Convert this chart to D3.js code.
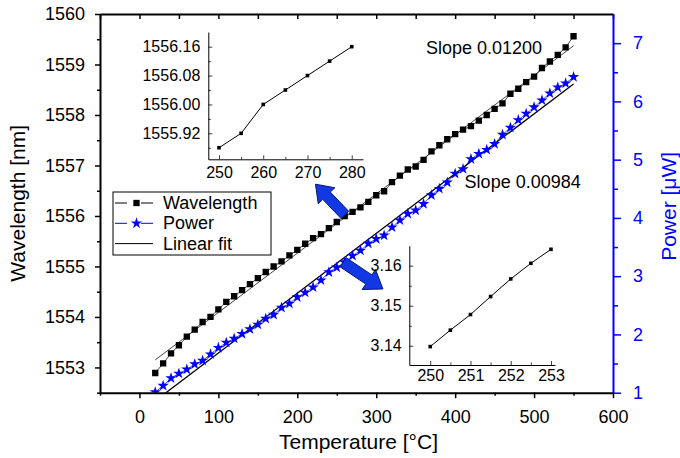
<!DOCTYPE html>
<html>
<head>
<meta charset="utf-8">
<script src="https://cdn.jsdelivr.net/npm/d3@7"></script>
<style>
  body { margin: 0; background: #fff; }
  text { font-family: "Liberation Sans", Arial, sans-serif; }
</style>
</head>
<body>
<svg id="chart" width="680" height="458"></svg>
<script>
// data
const TEMPS = [20, 30, 40, 50, 60, 70, 80, 90, 100, 110, 120, 130, 140, 150, 160, 170, 180, 190,
  200, 210, 220, 230, 240, 250, 260, 270, 280, 290, 300, 310, 320, 330, 340, 350, 360, 370,
  380, 390, 400, 410, 420, 430, 440, 450, 460, 470, 480, 490, 500, 510, 520, 530, 540, 550];
const WAVELENGTH = [1552.89, 1553.08, 1553.28, 1553.44, 1553.61, 1553.75, 1553.90, 1554.00, 1554.15,
  1554.30, 1554.41, 1554.53, 1554.65, 1554.77, 1554.89, 1555.00, 1555.10, 1555.22, 1555.33, 1555.45,
  1555.56, 1555.64, 1555.76, 1555.88, 1556.00, 1556.08, 1556.17, 1556.28, 1556.41, 1556.49, 1556.67,
  1556.80, 1556.92, 1556.98, 1557.11, 1557.28, 1557.40, 1557.52, 1557.62, 1557.71, 1557.78, 1557.89,
  1558.00, 1558.12, 1558.23, 1558.42, 1558.52, 1558.65, 1558.76, 1558.93, 1559.06, 1559.19, 1559.34,
  1559.56];
const POWER = [1.01, 1.12, 1.25, 1.33, 1.40, 1.49, 1.55, 1.66, 1.77, 1.86, 1.93, 2.01, 2.09, 2.17,
  2.27, 2.34, 2.46, 2.53, 2.64, 2.72, 2.81, 2.93, 3.07, 3.15, 3.24, 3.35, 3.44, 3.56, 3.64, 3.70,
  3.84, 3.96, 4.07, 4.13, 4.24, 4.39, 4.50, 4.61, 4.76, 4.84, 5.01, 5.10, 5.17, 5.27, 5.43, 5.55,
  5.68, 5.79, 5.90, 6.02, 6.14, 6.24, 6.31, 6.42];

const FIT_T = [20, 550];
const FIT_WL = [1553.15, 1559.37];
const FIT_PW = [0.86, 6.30];

const INSET1_T = [250, 255, 260, 265, 270, 275, 280];
const INSET1_WL = [1555.88, 1555.92, 1556.00, 1556.04, 1556.08, 1556.12, 1556.16];
const INSET2_T = [250, 250.5, 251, 251.5, 252, 252.5, 253];
const INSET2_PW = [3.1398, 3.1439, 3.1478, 3.1523, 3.1567, 3.1606, 3.1641];

const X_TICKS = [0, 100, 200, 300, 400, 500, 600];
const X_MINOR = [-50, 50, 150, 250, 350, 450, 550];
const WL_TICKS = [1553, 1554, 1555, 1556, 1557, 1558, 1559, 1560];
const WL_MINOR = [1552.5, 1553.5, 1554.5, 1555.5, 1556.5, 1557.5, 1558.5, 1559.5];
const PW_TICKS = [1, 2, 3, 4, 5, 6, 7];
const PW_MINOR = [1.5, 2.5, 3.5, 4.5, 5.5, 6.5];

const LEGEND = ["Wavelength", "Power", "Linear fit"];
const SLOPE_LABELS = ["Slope 0.01200", "Slope 0.00984"];

const WIDTH = 680;
const HEIGHT = 458;
const FONT = "Liberation Sans, Arial, sans-serif";
const BLUE = "#0000ff";
const ARROW_FILL = "#1238e6";
const ARROW_STROKE = "#08186e";

const plotLeft = 100;
const plotRight = 613;
const plotTop = 14;
const plotBottom = 392.7;

const svg = d3.select("#chart");
svg.append("rect").attr("width", WIDTH).attr("height", HEIGHT).attr("fill", "#fff");

const x = d3.scaleLinear().domain([-50, 600]).range([plotLeft, plotRight]);
const yL = d3.scaleLinear().domain([1552.5, 1560]).range([plotBottom, plotTop]);
const yR = d3.scaleLinear().domain([1, 7.5]).range([plotBottom, plotTop]);

svg.append("clipPath").attr("id", "clip")
  .append("rect")
  .attr("x", plotLeft).attr("y", plotTop)
  .attr("width", plotRight - plotLeft).attr("height", plotBottom - plotTop);

const styleAxis = (g, color, size, width) => {
  g.attr("font-family", FONT).attr("font-size", size);
  g.selectAll("path").attr("stroke", color).attr("stroke-width", width);
  g.selectAll("line").attr("stroke", color).attr("stroke-width", width * 0.75);
  g.selectAll("text").attr("fill", color);
};

// ----- data marks -----
const plot = svg.append("g").attr("clip-path", "url(#clip)");

const lineWl = d3.line().x((d, i) => x(TEMPS[i])).y((d) => yL(d));
const linePw = d3.line().x((d, i) => x(TEMPS[i])).y((d) => yR(d));
const lineFitWl = d3.line().x((d, i) => x(FIT_T[i])).y((d) => yL(d));
const lineFitPw = d3.line().x((d, i) => x(FIT_T[i])).y((d) => yR(d));

plot.append("path").attr("d", lineWl(WAVELENGTH))
  .attr("fill", "none").attr("stroke", "#000").attr("stroke-width", 0.7);
plot.append("path").attr("d", linePw(POWER))
  .attr("fill", "none").attr("stroke", BLUE).attr("stroke-width", 0.7);
plot.append("path").attr("d", lineFitWl(FIT_WL))
  .attr("fill", "none").attr("stroke", "#333").attr("stroke-width", 0.9);
plot.append("path").attr("d", lineFitPw(FIT_PW))
  .attr("fill", "none").attr("stroke", "#000").attr("stroke-width", 1.3);

const square = d3.symbol().type(d3.symbolSquare).size(40);
const star = d3.symbol().type(d3.symbolStar).size(40);

plot.selectAll(".wl")
  .data(WAVELENGTH)
  .enter()
  .append("path")
  .attr("class", "wl")
  .attr("d", square())
  .attr("fill", "#000")
  .attr("transform", (d, i) => `translate(${x(TEMPS[i])},${yL(d)})`);

plot.selectAll(".pw")
  .data(POWER)
  .enter()
  .append("path")
  .attr("class", "pw")
  .attr("d", star())
  .attr("fill", BLUE)
  .attr("transform", (d, i) => `translate(${x(TEMPS[i])},${yR(d)})`);

// ----- main axes -----
const gLeft = svg.append("g").attr("transform", `translate(${plotLeft},0)`)
  .call(d3.axisLeft(yL).tickValues(WL_TICKS).tickSize(5).tickSizeOuter(0).tickPadding(10).tickFormat(d3.format("d")));
styleAxis(gLeft, "#000", 18, 2);
const gLeftMinor = svg.append("g").attr("transform", `translate(${plotLeft},0)`)
  .call(d3.axisLeft(yL).tickValues(WL_MINOR).tickSize(3).tickFormat(""));
gLeftMinor.select(".domain").remove();
styleAxis(gLeftMinor, "#000", 18, 2);

const gBottom = svg.append("g").attr("transform", `translate(0,${plotBottom})`)
  .call(d3.axisBottom(x).tickValues(X_TICKS).tickSize(5.5).tickSizeOuter(0).tickPadding(12).tickFormat(d3.format("d")));
styleAxis(gBottom, "#000", 18, 2);
const gBottomMinor = svg.append("g").attr("transform", `translate(0,${plotBottom})`)
  .call(d3.axisBottom(x).tickValues(X_MINOR).tickSize(3).tickFormat(""));
gBottomMinor.select(".domain").remove();
styleAxis(gBottomMinor, "#000", 18, 2);

const gTop = svg.append("g").attr("transform", `translate(0,${plotTop})`)
  .call(d3.axisTop(x).tickValues(X_TICKS.concat(X_MINOR)).tickSize(-5).tickSizeOuter(0).tickFormat(""));
styleAxis(gTop, "#000", 18, 2);

const gRight = svg.append("g").attr("transform", `translate(${plotRight},0)`)
  .call(d3.axisRight(yR).tickValues(PW_TICKS).tickSize(8).tickSizeOuter(0).tickPadding(12).tickFormat(d3.format("d")));
styleAxis(gRight, BLUE, 18, 2);
const gRightMinor = svg.append("g").attr("transform", `translate(${plotRight},0)`)
  .call(d3.axisRight(yR).tickValues(PW_MINOR).tickSize(5).tickFormat(""));
gRightMinor.select(".domain").remove();
styleAxis(gRightMinor, BLUE, 18, 2);

// axis titles
svg.append("text")
  .attr("x", (plotLeft + plotRight) / 2 + 2).attr("y", 449)
  .attr("text-anchor", "middle").attr("font-size", 21)
  .text("Temperature [°C]");
svg.append("text")
  .attr("transform", `translate(25,${(plotTop + plotBottom) / 2}) rotate(-90)`)
  .attr("text-anchor", "middle").attr("font-size", 21)
  .text("Wavelength [nm]");
svg.append("text")
  .attr("transform", `translate(676,${(plotTop + plotBottom) / 2 + 3}) rotate(-90)`)
  .attr("text-anchor", "middle").attr("font-size", 21).attr("fill", BLUE)
  .text("Power [μW]");

// slope notes
svg.append("text").attr("x", x(363)).attr("y", yL(1559.2)).attr("font-size", 18).text(SLOPE_LABELS[0]);
svg.append("text").attr("x", x(412)).attr("y", yL(1556.55)).attr("font-size", 18).text(SLOPE_LABELS[1]);

// ----- legend -----
const legend = svg.append("g").attr("transform", "translate(113,192)");
legend.append("rect").attr("width", 158).attr("height", 63)
  .attr("fill", "#fff").attr("stroke", "#000").attr("stroke-width", 1);
const legendRows = legend.selectAll(".row")
  .data(LEGEND)
  .enter()
  .append("g")
  .attr("class", "row")
  .attr("transform", (d, i) => `translate(0,${11 + i * 20.3})`);
legendRows.append("line")
  .attr("x1", 2).attr("x2", 40)
  .attr("stroke", (d, i) => (i === 1 ? BLUE : "#000"))
  .attr("stroke-width", 1)
  .attr("stroke-dasharray", (d, i) => (i === 2 ? null : "12,14"));
legendRows.filter((d, i) => i === 0).append("path").attr("d", square()).attr("fill", "#000")
  .attr("transform", "translate(23.5,0)");
legendRows.filter((d, i) => i === 1).append("path").attr("d", star()).attr("fill", BLUE)
  .attr("transform", "translate(23.5,0)");
legendRows.append("text").attr("x", 50).attr("y", 6).attr("font-size", 18).text((d) => d);

// ----- arrows (placed in data units) -----
const arrowPath = (x0, y0, x1, y1, shaftW, headW, headL) => {
  const len = Math.hypot(x1 - x0, y1 - y0);
  const ux = (x1 - x0) / len;
  const uy = (y1 - y0) / len;
  const nx = -uy;
  const ny = ux;
  const bx = x1 - ux * headL;
  const by = y1 - uy * headL;
  const pts = [
    [x0 + nx * shaftW / 2, y0 + ny * shaftW / 2],
    [bx + nx * shaftW / 2, by + ny * shaftW / 2],
    [bx + nx * headW / 2, by + ny * headW / 2],
    [x1, y1],
    [bx - nx * headW / 2, by - ny * headW / 2],
    [bx - nx * shaftW / 2, by - ny * shaftW / 2],
    [x0 - nx * shaftW / 2, y0 - ny * shaftW / 2],
  ];
  return "M" + pts.map((p) => p.join(",")).join("L") + "Z";
};
svg.append("path")
  .attr("d", arrowPath(x(260.4), yL(1556.02), x(223.0), yL(1556.63), 10.5, 23, 16))
  .attr("fill", ARROW_FILL).attr("stroke", ARROW_STROKE).attr("stroke-width", 1);
svg.append("path")
  .attr("d", arrowPath(x(257.9), yR(3.24), x(308.5), yR(2.78), 11, 24, 17))
  .attr("fill", ARROW_FILL).attr("stroke", ARROW_STROKE).attr("stroke-width", 1);

// ----- insets -----
const drawInset = (cfg) => {
  const ix = d3.scaleLinear().domain(cfg.xDomain).range([cfg.left, cfg.right]);
  const iy = d3.scaleLinear().domain(cfg.yDomain).range([cfg.bottom, cfg.top]);
  const g = svg.append("g");

  const gx = g.append("g").attr("transform", `translate(0,${cfg.bottom})`)
    .call(d3.axisBottom(ix).tickValues(cfg.xTicks).tickSize(-4).tickSizeOuter(0)
      .tickPadding(cfg.xPad).tickFormat(cfg.xFormat));
  styleAxis(gx, "#000", cfg.font, 1);
  const gxm = g.append("g").attr("transform", `translate(0,${cfg.bottom})`)
    .call(d3.axisBottom(ix).tickValues(cfg.xMinor).tickSize(-2.5).tickFormat(""));
  gxm.select(".domain").remove();
  styleAxis(gxm, "#000", cfg.font, 1);

  const gy = g.append("g").attr("transform", `translate(${cfg.left},0)`)
    .call(d3.axisLeft(iy).tickValues(cfg.yTicks).tickSize(-4).tickSizeOuter(0)
      .tickPadding(cfg.yPad).tickFormat(cfg.yFormat));
  styleAxis(gy, "#000", cfg.font, 1);
  const gym = g.append("g").attr("transform", `translate(${cfg.left},0)`)
    .call(d3.axisLeft(iy).tickValues(cfg.yMinor).tickSize(-2.5).tickFormat(""));
  gym.select(".domain").remove();
  styleAxis(gym, "#000", cfg.font, 1);

  const line = d3.line().x((d, i) => ix(cfg.xs[i])).y((d) => iy(d));
  g.append("path").attr("d", line(cfg.ys))
    .attr("fill", "none").attr("stroke", "#000").attr("stroke-width", 1);
  g.selectAll(".pt")
    .data(cfg.ys)
    .enter()
    .append("rect")
    .attr("class", "pt")
    .attr("x", (d, i) => ix(cfg.xs[i]) - 1.8)
    .attr("y", (d) => iy(d) - 1.8)
    .attr("width", 3.6)
    .attr("height", 3.6)
    .attr("fill", "#000");
};

drawInset({
  left: 208.3, right: 363, top: 32, bottom: 159.3,
  xDomain: [247.58, 282.55], yDomain: [1555.848, 1556.2007],
  xTicks: [250, 260, 270, 280], xMinor: [255, 265, 275],
  yTicks: [1555.92, 1556.00, 1556.08, 1556.16], yMinor: [1555.88, 1555.96, 1556.04, 1556.12],
  xFormat: d3.format("d"), yFormat: d3.format(".2f"),
  xPad: 7, yPad: 8, font: 16,
  xs: INSET1_T, ys: INSET1_WL,
});

drawInset({
  left: 409.3, right: 555, top: 245.7, bottom: 365,
  xDomain: [249.48, 253.1], yDomain: [3.1352, 3.165],
  xTicks: [250, 251, 252, 253], xMinor: [250.5, 251.5, 252.5],
  yTicks: [3.14, 3.15, 3.16], yMinor: [3.145, 3.155],
  xFormat: d3.format("d"), yFormat: d3.format(".2f"),
  xPad: 5, yPad: 7.6, font: 16,
  xs: INSET2_T, ys: INSET2_PW,
});
</script>
</body>
</html>
